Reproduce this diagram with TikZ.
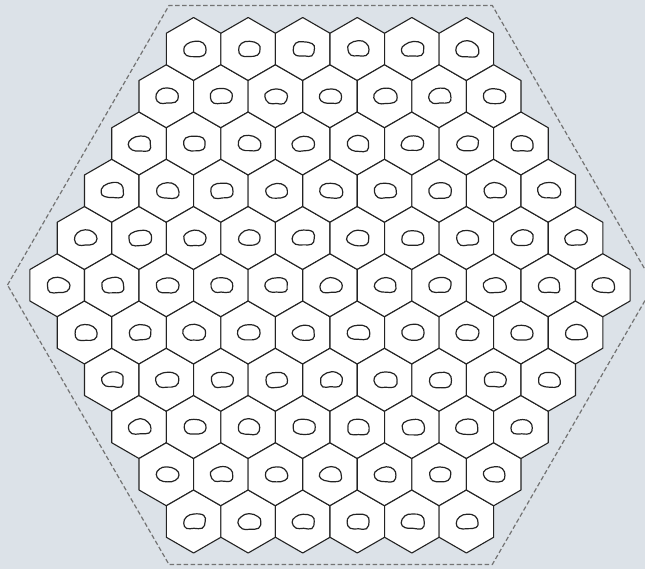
\documentclass[tikz,border=0pt]{standalone}
\definecolor{bg}{RGB}{220,226,232}
\definecolor{ink}{RGB}{35,35,35}
\tikzset{
 cell/.style={draw=ink, fill=white, line width=1.1pt, line join=round},
 blob/.style={draw=ink, line width=1.2pt},
 frame/.style={draw=black!55, line width=1.2pt, dash pattern=on 4.5pt off 2.5pt},
}
\begin{document}
\begin{tikzpicture}[x=1pt,y=-1pt]
\useasboundingbox (0,0) rectangle (645,569);
\clip (0,0) rectangle (645,569);
\fill[bg] (0,0) rectangle (645,569);
\draw[frame] (7.5,285) -- (169,5.5) -- (492.3,5.5) -- (654,285) -- (492.3,564.5) -- (169,564.5) -- cycle;
\pgfmathsetseed{4242}
\foreach \q in {-5,...,5}{
 \foreach \r in {-5,...,5}{
  \pgfmathtruncatemacro\s{abs(0-(\q)-(\r))}
  \ifnum\s<6
   \pgfmathsetmacro\cx{330+54.56*(\q+0.5*\r)}
   \pgfmathsetmacro\cy{285.25+47.25*\r}
   \draw[cell] (\cx,\cy) +(30:31.5) -- +(90:31.5) -- +(150:31.5) -- +(210:31.5) -- +(270:31.5) -- +(330:31.5) -- cycle;
   \draw[blob] plot[smooth cycle, tension=0.75] coordinates {
     ({\cx-10+0.8*rand},{\cy+1+0.8*rand})
     ({\cx-7.5+0.8*rand},{\cy-5+0.8*rand})
     ({\cx+1+0.8*rand},{\cy-7.8+0.6*rand})
     ({\cx+9.5+0.8*rand},{\cy-5.5+0.8*rand})
     ({\cx+12+0.8*rand},{\cy+0.5+0.8*rand})
     ({\cx+9.5+0.9*rand},{\cy+6.5+0.8*rand})
     ({\cx+1+0.8*rand},{\cy+7.3+0.6*rand})
     ({\cx-6.5+0.8*rand},{\cy+6.5+0.8*rand})
   };
  \fi
 }
}
\end{tikzpicture}
\end{document}
